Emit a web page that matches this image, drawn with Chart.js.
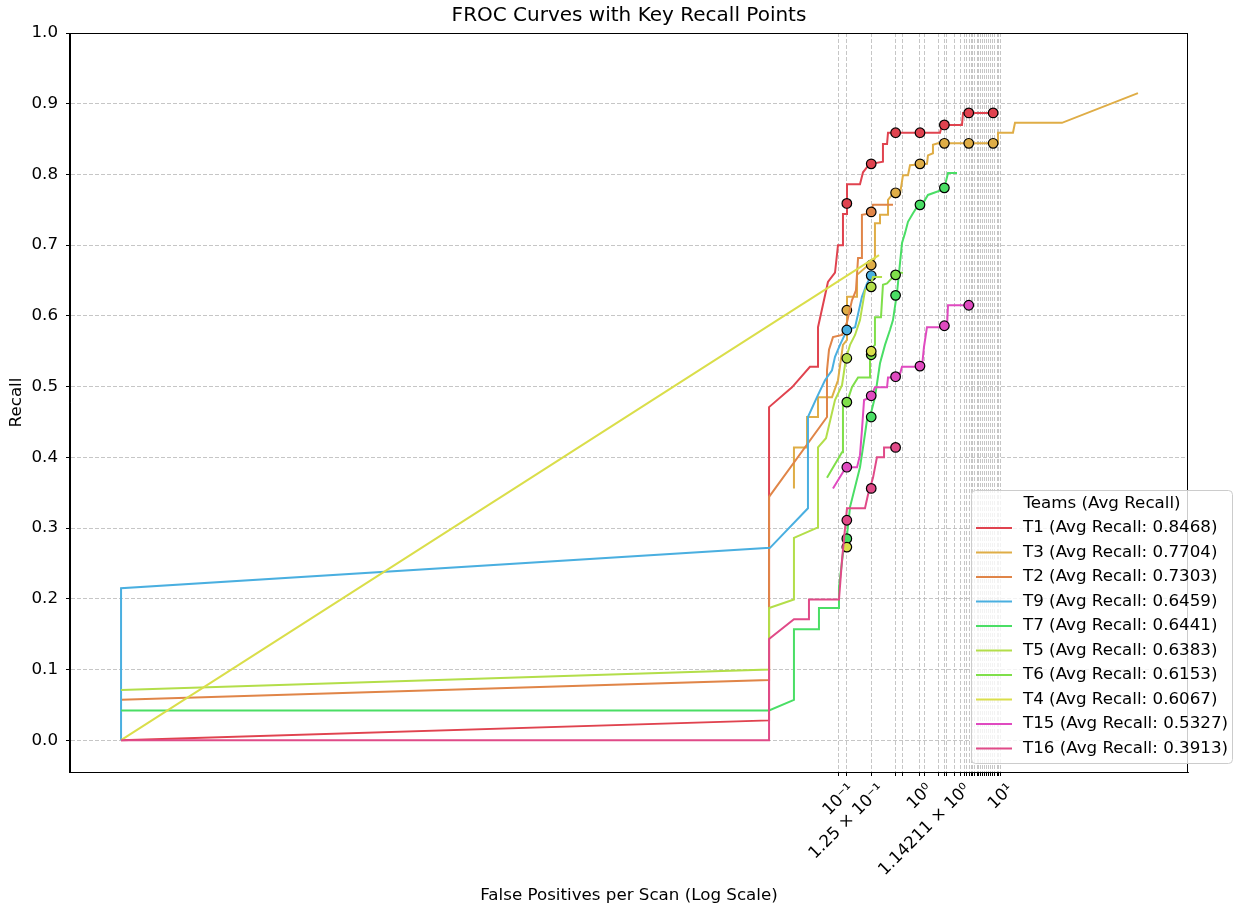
<!DOCTYPE html>
<html>
<head>
<meta charset="utf-8">
<script src="https://cdn.jsdelivr.net/npm/chart.js@4.4.0/dist/chart.umd.min.js"></script>
<style>
  html, body { margin: 0; padding: 0; background: #fff; }
</style>
</head>
<body>
<canvas id="froc" width="1233" height="907"></canvas>
<script>
// team order as in the legend
const teamNames = ['T1', 'T3', 'T2', 'T9', 'T7', 'T5', 'T6', 'T4', 'T15', 'T16'];
const avgRecall = [0.8468, 0.7704, 0.7303, 0.6459, 0.6441, 0.6383, 0.6153, 0.6067, 0.5327, 0.3913];
const teamColors = ['#e0434f', '#dfad46', '#e08548', '#4aafe0', '#4ade65',
                    '#b3de4a', '#7fdf4a', '#dade4a', '#e04ac0', '#e04a88'];

// FROC curves (false positives per scan, recall)
const t1Fp = [1.37e-10, 0.0137, 0.0137, 0.0263, 0.0438, 0.0551, 0.0551, 0.0731, 0.0893, 0.0972, 0.112, 0.112,
              0.1256, 0.1256, 0.1817, 0.198, 0.228, 0.25, 0.349, 0.349, 0.392, 0.403, 1.766, 1.869, 3.30, 3.40, 9.18];
const t1Recall = [0, 0.028, 0.471, 0.499, 0.528, 0.528, 0.584, 0.648, 0.661, 0.700, 0.700, 0.744,
                  0.744, 0.786, 0.786, 0.803, 0.812, 0.815, 0.818, 0.843, 0.843, 0.859, 0.859, 0.870, 0.870, 0.887, 0.887];

const t3Fp = [0.0278, 0.0278, 0.0403, 0.0403, 0.0551, 0.0551, 0.082, 0.0972, 0.112, 0.1256, 0.1256, 0.167, 0.167,
              0.2155, 0.255, 0.278, 0.278, 0.321, 0.321, 0.403, 0.403, 0.451, 0.566, 0.617, 0.711, 0.753, 1.22,
              1.255, 1.446, 1.446, 1.667, 8.93, 9.18, 14.06, 14.89, 56.6, 491];
const t3Recall = [0.356, 0.414, 0.414, 0.457, 0.457, 0.485, 0.485, 0.509, 0.559, 0.566, 0.627, 0.627, 0.658,
                  0.669, 0.672, 0.682, 0.731, 0.731, 0.743, 0.743, 0.764, 0.771, 0.772, 0.799, 0.799, 0.813, 0.815,
                  0.827, 0.830, 0.842, 0.844, 0.844, 0.859, 0.859, 0.873, 0.873, 0.915];

const t2Fp = [1.37e-10, 0.0137, 0.0137, 0.0711, 0.0711, 0.0753, 0.0843, 0.109, 0.1256, 0.1446, 0.162, 0.172,
              0.192, 0.192, 0.248, 0.263, 0.464];
const t2Recall = [0.057, 0.085, 0.344, 0.457, 0.523, 0.552, 0.570, 0.573, 0.591, 0.622, 0.636, 0.682,
                  0.682, 0.743, 0.745, 0.757, 0.757];

const t9Fp = [1.37e-10, 1.37e-10, 0.01406, 0.0414, 0.0414, 0.0535, 0.0672, 0.082, 0.0893, 0.1029, 0.1256,
              0.158, 0.192, 0.222, 0.248, 0.270];
const t9Recall = [0, 0.215, 0.272, 0.328, 0.457, 0.485, 0.509, 0.523, 0.542, 0.559, 0.580,
                  0.584, 0.627, 0.646, 0.656, 0.661];

const t7Fp = [1.37e-10, 0.0137, 0.0278, 0.0278, 0.0566, 0.0566, 0.1, 0.1, 0.112, 0.1256, 0.137, 0.158, 0.1817,
              0.204, 0.222, 0.2415, 0.278, 0.321, 0.370, 0.426, 0.464, 0.520, 0.600, 0.653, 0.711, 0.820, 0.918,
              1.059, 1.255, 1.869, 2.0, 2.218, 2.863];
const t7Recall = [0.042, 0.042, 0.057, 0.157, 0.157, 0.187, 0.187, 0.216, 0.264, 0.290, 0.330, 0.358, 0.386,
                  0.424, 0.453, 0.457, 0.485, 0.533, 0.559, 0.580, 0.594, 0.632, 0.703, 0.717, 0.733, 0.745, 0.754,
                  0.757, 0.771, 0.778, 0.781, 0.802, 0.802];

const t5Fp = [1.37e-10, 0.0137, 0.0137, 0.0278, 0.0278, 0.0551, 0.0551, 0.0691, 0.0893, 0.109, 0.122, 0.137,
              0.158, 0.1817, 0.2095, 0.248, 0.263, 0.340];
const t5Recall = [0.071, 0.100, 0.187, 0.199, 0.286, 0.301, 0.414, 0.427, 0.481, 0.502, 0.540, 0.559,
                  0.573, 0.594, 0.636, 0.645, 0.655, 0.655];

const t6Fp = [0.0711, 0.109, 0.112, 0.1256, 0.1446, 0.172, 0.2415, 0.2415, 0.278, 0.278, 0.330, 0.349, 0.392,
              0.491, 0.520, 0.617];
const t6Recall = [0.371, 0.407, 0.478, 0.478, 0.499, 0.513, 0.513, 0.552, 0.559, 0.598, 0.598, 0.644, 0.646,
                  0.658, 0.661, 0.661];

const t4Fp = [1.37e-10, 0.312];
const t4Recall = [0, 0.686];

const t15Fp = [0.0843, 0.122, 0.167, 0.1817, 0.192, 0.204, 0.248, 0.278, 0.392, 0.403, 0.551, 0.600, 1.059,
               1.120, 1.22, 2.154, 2.218, 4.14];
const t15Recall = [0.356, 0.386, 0.386, 0.403, 0.438, 0.481, 0.485, 0.499, 0.499, 0.513, 0.513, 0.528, 0.528,
                   0.556, 0.584, 0.584, 0.615, 0.615];

const t16Fp = [1.37e-10, 0.0137, 0.0137, 0.0278, 0.0426, 0.0426, 0.1, 0.109, 0.115, 0.1256, 0.2095, 0.228,
               0.263, 0.294, 0.360, 0.360, 0.566];
const t16Recall = [0, 0, 0.143, 0.171, 0.171, 0.199, 0.199, 0.255, 0.283, 0.328, 0.328, 0.347,
                   0.371, 0.400, 0.400, 0.414, 0.414];

// key recall points at standard FP rates
const keyFp = [0.125, 0.25, 0.5, 1, 2, 4, 8];
const t1Keys = [0.759, 0.815, 0.859, 0.859, 0.870, 0.887, 0.887];
const t3Keys = [0.608, 0.672, 0.774, 0.815, 0.844, 0.844, 0.844];
const t2Keys = [null, 0.747, null, null, null, null, null];
const t9Keys = [0.580, 0.657, null, null, null, null, null];
const t7Keys = [0.285, 0.457, 0.629, 0.757, 0.781, null, null];
const t5Keys = [0.540, 0.641, null, null, null, null, null];
const t6Keys = [0.478, 0.545, 0.658, null, null, null, null];
const t4Keys = [0.273, 0.550, null, null, null, null, null];
const t15Keys = [0.386, 0.487, 0.514, 0.529, 0.586, 0.615, null];
const t16Keys = [0.311, 0.356, 0.414, null, null, null, null];

// axis ticks
const xTickValues = [0.1, 0.125, 0.25, 0.5, 0.617, 1, 1.14211, 1.683, 2, 2.154, 2.70, 3.12, 3.59, 3.80, 4.03,
                     4.27, 4.51, 4.77, 5.06, 5.35, 5.66, 5.99, 6.34, 6.71, 7.10, 7.52, 7.96, 8.43, 8.93, 9.45, 10];
const xTickLabels = {0.1: '10\u207B\u00B9', 0.125: '1.25 \u00D7 10\u207B\u00B9', 1: '10\u2070',
                     1.14211: '1.14211 \u00D7 10\u2070', 10: '10\u00B9'};
const yTickValues = [0, 0.1, 0.2, 0.3, 0.4, 0.5, 0.6, 0.7, 0.8, 0.9, 1.0];

const curveFp = [t1Fp, t3Fp, t2Fp, t9Fp, t7Fp, t5Fp, t6Fp, t4Fp, t15Fp, t16Fp];
const curveRecall = [t1Recall, t3Recall, t2Recall, t9Recall, t7Recall, t5Recall, t6Recall, t4Recall, t15Recall, t16Recall];
const curveKeys = [t1Keys, t3Keys, t2Keys, t9Keys, t7Keys, t5Keys, t6Keys, t4Keys, t15Keys, t16Keys];

const FONT = 'DejaVu Sans';
const TEXT_SIZE = 16.7;

const datasets = [];
let layer = 100;
teamNames.forEach((name, i) => {
  datasets.push({
    label: name + ' (Avg Recall: ' + avgRecall[i].toFixed(4) + ')',
    data: curveFp[i].map((fp, j) => ({x: fp, y: curveRecall[i][j]})),
    borderColor: teamColors[i],
    borderWidth: 2,
    pointRadius: 0,
    tension: 0,
    fill: false,
    order: layer--
  });
  datasets.push({
    label: name + ' keys',
    data: keyFp.map((fp, j) => ({x: fp, y: curveKeys[i][j]})).filter(p => p.y !== null),
    showLine: false,
    pointRadius: 4.8,
    pointBackgroundColor: teamColors[i],
    pointBorderColor: '#000',
    pointBorderWidth: 1.2,
    order: layer--
  });
});

const decorations = {
  id: 'decorations',
  afterDatasetsDraw(chart) {
    const {ctx, chartArea: a} = chart;
    ctx.save();
    ctx.strokeStyle = '#000';
    ctx.lineWidth = 1;
    ctx.strokeRect(Math.round(a.left) - 0.5, Math.round(a.top) + 0.5,
                   Math.round(a.right - a.left), Math.round(a.bottom - a.top));
    ctx.restore();
  },
  afterDraw(chart) {
    const {ctx, chartArea: a} = chart;
    const xs = chart.scales.x;
    ctx.save();
    ctx.fillStyle = '#000';
    ctx.textAlign = 'center';
    ctx.textBaseline = 'middle';
    ctx.font = '20px "' + FONT + '"';
    ctx.fillText('FROC Curves with Key Recall Points', (a.left + a.right) / 2, 16);
    ctx.font = TEXT_SIZE + 'px "' + FONT + '"';
    ctx.fillText('False Positives per Scan (Log Scale)', (a.left + a.right) / 2, 896);
    ctx.save();
    ctx.translate(17, (a.top + a.bottom) / 2);
    ctx.rotate(-Math.PI / 2);
    ctx.fillText('Recall', 0, 0);
    ctx.restore();

    // rotated x tick labels, bounding box centred under the tick
    Object.keys(xTickLabels).forEach(k => {
      const label = xTickLabels[k];
      const px = xs.getPixelForValue(Number(k));
      const w = ctx.measureText(label).width;
      const half = (w + TEXT_SIZE) * Math.SQRT1_2 / 2;
      ctx.save();
      ctx.translate(px, a.bottom + 9 + half);
      ctx.rotate(-Math.PI / 4);
      ctx.fillText(label, 0, 0);
      ctx.restore();
    });

    // legend box
    const lx = 971.5, ly = 490.5, lw = 261, lh = 273, r = 4;
    ctx.beginPath();
    ctx.moveTo(lx + r, ly);
    ctx.lineTo(lx + lw - r, ly);
    ctx.arcTo(lx + lw, ly, lx + lw, ly + r, r);
    ctx.lineTo(lx + lw, ly + lh - r);
    ctx.arcTo(lx + lw, ly + lh, lx + lw - r, ly + lh, r);
    ctx.lineTo(lx + r, ly + lh);
    ctx.arcTo(lx, ly + lh, lx, ly + lh - r, r);
    ctx.lineTo(lx, ly + r);
    ctx.arcTo(lx, ly, lx + r, ly, r);
    ctx.closePath();
    ctx.fillStyle = 'rgba(255,255,255,0.8)';
    ctx.fill();
    ctx.strokeStyle = '#cccccc';
    ctx.lineWidth = 1;
    ctx.stroke();

    ctx.fillStyle = '#000';
    ctx.textAlign = 'center';
    ctx.fillText('Teams (Avg Recall)', 1102, 504);
    ctx.textAlign = 'left';
    teamNames.forEach((name, i) => {
      const y = 528 + i * 24.5;
      ctx.strokeStyle = teamColors[i];
      ctx.lineWidth = 2;
      ctx.beginPath();
      ctx.moveTo(976, y);
      ctx.lineTo(1012, y);
      ctx.stroke();
      ctx.fillText(name + ' (Avg Recall: ' + avgRecall[i].toFixed(4) + ')', 1023, y);
    });
    ctx.restore();
  }
};

const gridStyle = {color: '#b8b8b8', lineWidth: 0.8,
                   tickColor: '#000', tickLength: 4, tickBorderDash: [], tickWidth: 1};

new Chart(document.getElementById('froc'), {
  type: 'line',
  data: {datasets},
  plugins: [decorations],
  options: {
    responsive: false,
    animation: false,
    layout: {padding: {top: 33, right: 45, left: 0, bottom: 0}},
    plugins: {legend: {display: false}, title: {display: false}, tooltip: {enabled: false}},
    scales: {
      x: {
        type: 'logarithmic',
        min: 3.21e-11,
        max: 2036,
        bounds: 'data',
        afterFit(scale) { scale.height = 135; },
        afterBuildTicks(scale) { scale.ticks = xTickValues.map(v => ({value: v})); },
        grid: gridStyle,
        border: {display: true, color: '#000', width: 1, dash: [4, 2]},
        ticks: {
          autoSkip: false,
          minRotation: 0,
          maxRotation: 0,
          callback: () => ''
        }
      },
      y: {
        type: 'linear',
        min: -0.045,
        max: 1.0,
        afterFit(scale) { scale.width = 70; },
        afterBuildTicks(scale) { scale.ticks = yTickValues.map(v => ({value: v})); },
        grid: gridStyle,
        border: {display: true, color: '#000', width: 1, dash: [4, 2]},
        ticks: {
          padding: 8,
          color: '#000',
          font: {family: FONT, size: TEXT_SIZE},
          callback: (v) => v.toFixed(1)
        }
      }
    }
  }
});
</script>
</body>
</html>
